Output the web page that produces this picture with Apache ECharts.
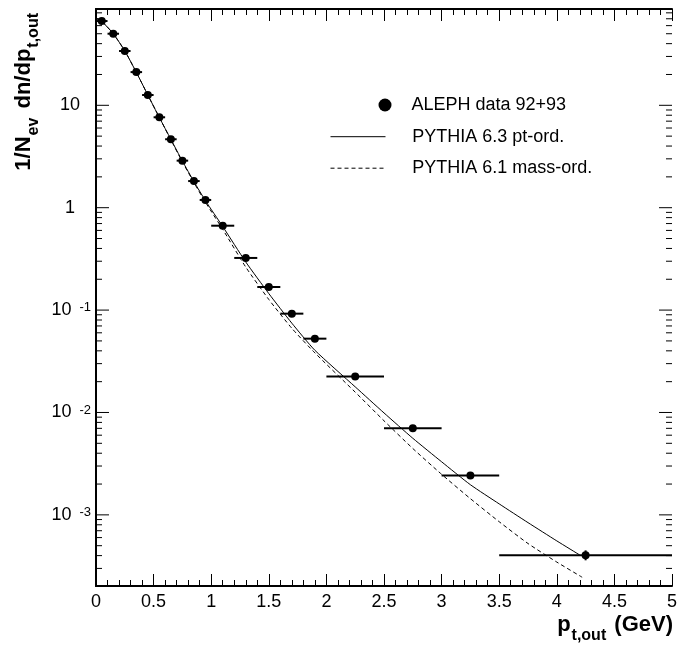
<!DOCTYPE html>
<html><head><meta charset="utf-8">
<script src="https://cdn.jsdelivr.net/npm/echarts@6/dist/echarts.min.js"></script>
<style>html,body{margin:0;padding:0;background:#fff}#c{width:681px;height:651px}</style>
</head><body><div id="c"></div>
<script>
// ---- data ----
const dataX   = [0.05,0.15,0.25,0.35,0.45,0.55,0.65,0.75,0.85,0.95,1.1,1.3,1.5,1.7,1.9,2.25,2.75,3.25,4.25];
const dataY   = [66.5,50,33.9,21.1,12.6,7.64,4.66,2.88,1.82,1.19,0.667,0.323,0.168,0.0923,0.0526,0.0224,0.00701,0.00242,0.000403];
const dataXLo = [0,0.1,0.2,0.3,0.4,0.5,0.6,0.7,0.8,0.9,1.0,1.2,1.4,1.6,1.8,2.0,2.5,3.0,3.5];
const dataXHi = [0.1,0.2,0.3,0.4,0.5,0.6,0.7,0.8,0.9,1.0,1.2,1.4,1.6,1.8,2.0,2.5,3.0,3.5,5.0];
const dataYLo = [null,null,null,null,null,null,null,null,null,null,null,null,null,null,null,null,null,null,0.00036];
const dataYHi = [null,null,null,null,null,null,null,null,null,null,null,null,null,null,null,null,null,null,0.00045];

const ptOrdX = [0,0.05,0.15,0.25,0.35,0.45,0.55,0.65,0.75,0.85,0.95,1.1,1.3,1.5,1.7,1.9,2.25,2.5,2.75,3.0,3.25,3.5,3.75,4.0,4.2];
const ptOrdY = [70.7,66,50,34,21,12.6,7.6,4.65,2.85,1.8,1.17,0.655,0.295,0.145,0.0745,0.0405,0.0178,0.0099,0.0056,0.0033,0.00197,0.00128,0.00084,0.000557,0.000405];
const massOrdX = [0,0.05,0.15,0.25,0.35,0.45,0.55,0.65,0.75,0.85,0.95,1.1,1.3,1.5,1.7,1.9,2.25,2.5,2.75,3.0,3.25,3.5,3.75,4.0,4.22];
const massOrdY = [70.7,66,50,34,21,12.6,7.6,4.6,2.8,1.76,1.13,0.615,0.263,0.127,0.0664,0.0382,0.0158,0.0083,0.00445,0.00249,0.00144,0.000857,0.000525,0.000346,0.000246];

const seriesNames = ['ALEPH data 92+93','PYTHIA 6.3 pt-ord.','PYTHIA 6.1 mass-ord.'];
const yMajorTicks = [0.001,0.01,0.1,1,10];
const yMinorTicks = [3e-4,4e-4,5e-4,6e-4,7e-4,8e-4,9e-4,
  2e-3,3e-3,4e-3,5e-3,6e-3,7e-3,8e-3,9e-3,
  0.02,0.03,0.04,0.05,0.06,0.07,0.08,0.09,
  0.2,0.3,0.4,0.5,0.6,0.7,0.8,0.9,
  2,3,4,5,6,7,8,9,20,30,40,50,60,70,80];
const xMin = 0, xMax = 5, xInterval = 0.5;
const yMin = 2.02e-4, yMax = 87.2;

// ---- chart ----
const FONT = '"Liberation Sans", Arial, Helvetica, sans-serif';
const chart = echarts.init(document.getElementById('c'), null, {renderer:'canvas'});

function yLabel(v){
  const e = Math.round(Math.log10(v));
  if (e === 1) return '{n10|10}';
  if (e === 0) return '{n1|1}';
  return '{n|10}{e|' + e + '}';
}
const nBase = {fontSize:18, lineHeight:18, fontFamily:FONT, color:'#000'};

const frameLine = {show:true, lineStyle:{color:'#000', width:2}};
function xAx(pos, showLabel){
  return {type:'value', position:pos, min:xMin, max:xMax, interval:xInterval,
    axisLine:frameLine,
    axisTick:{show:true, inside:true, length:12, lineStyle:{color:'#000', width:1}},
    minorTick:{show:true, splitNumber:5, length:6, lineStyle:{color:'#000', width:1}},
    splitLine:{show:false}, minorSplitLine:{show:false},
    axisLabel:{show:showLabel, margin:7, fontSize:18, fontFamily:FONT, color:'#000',
      showMinLabel:true, showMaxLabel:true, hideOverlap:false}
  };
}
function yAx(pos, showLabel){
  const ax = {type:'log', logBase:10, position:pos, min:yMin, max:yMax,
    axisLine:frameLine, axisTick:{show:false}, splitLine:{show:false},
    axisLabel:{show:false}
  };
  if (showLabel) {
    ax.axisLabel = {show:true, customValues:yMajorTicks, margin:5, formatter:yLabel,
      rich:{
        n:Object.assign({}, nBase, {padding:[12,0,12,0]}),
        n10:Object.assign({}, nBase, {padding:[12,11,12,0]}),
        n1:Object.assign({}, nBase, {padding:[12,16,12,0]}),
        e:{fontSize:13, lineHeight:13, fontFamily:FONT, color:'#000', verticalAlign:'top', padding:[0,0,0,8]}
      }};
  }
  return ax;
}

const errData = dataX.map((x,i)=>[x, dataY[i], dataXLo[i], dataXHi[i], dataYLo[i], dataYHi[i]]);
const yTickData = yMajorTicks.map(v=>[xMin, v, 1]).concat(yMinorTicks.map(v=>[xMin, v, 0]));

const mTok = {fontSize:22, lineHeight:22, fontWeight:'bold', fontFamily:FONT, color:'#000'};

chart.setOption({
  animation:false,
  backgroundColor:'#fff',
  grid:{left:96, right:9, top:9, bottom:65, containLabel:false},
  xAxis:[xAx('bottom', true), xAx('top', false)],
  yAxis:[yAx('left', true), yAx('right', false)],
  legend:[
    {data:[{name:seriesNames[0], icon:'circle'}], left:378.5, top:95, orient:'vertical', padding:0,
     itemWidth:13, itemHeight:13, selectedMode:false, itemStyle:{color:'#000', opacity:1},
     textStyle:{fontSize:18, lineHeight:20, fontFamily:FONT, color:'#000', padding:[0,0,0,15]}},
    {data:[seriesNames[1], seriesNames[2]], left:330, top:126.7, orient:'vertical', padding:0,
     itemWidth:55, itemHeight:14, itemGap:11.5, selectedMode:false,
     itemStyle:{color:'rgba(0,0,0,0)', borderWidth:0, opacity:0},
     lineStyle:{width:1, color:'#000'},
     textStyle:{fontSize:18, lineHeight:20, fontFamily:FONT, color:'#000', padding:[0,0,0,21.7]}}
  ],
  graphic:[
    {type:'text', x:673, y:625, silent:true,
     style:{text:'{m|p}{s|t,out}{m| (GeV)}', align:'right', verticalAlign:'middle',
       rich:{m:mTok, s:{fontSize:16, lineHeight:16, fontWeight:'bold', fontFamily:FONT, color:'#000', padding:[22,2,0,1]}}}},
    {type:'text', x:24, y:10, rotation:Math.PI/2, silent:true,
     style:{text:'{m|1/N}{s|ev}{m| dn/dp}{s|t,out}', align:'right', verticalAlign:'middle',
       rich:{m:mTok, s:{fontSize:16, lineHeight:16, fontWeight:'bold', fontFamily:FONT, color:'#000', padding:[20,3,0,1]}}}}
  ],
  series:[
    {type:'custom', xAxisIndex:0, yAxisIndex:0, data:yTickData, encode:{x:0, y:1}, z:1, silent:true,
     renderItem:function(params, api){
       const v = api.value(1);
       const len = api.value(2) ? 13 : 6;
       const a = api.coord([xMin, v]), b = api.coord([xMax, v]);
       return {type:'group', children:[
         {type:'line', shape:{x1:a[0], y1:a[1], x2:a[0]+len, y2:a[1]}, style:{stroke:'#000', lineWidth:1}},
         {type:'line', shape:{x1:b[0], y1:b[1], x2:b[0]-len, y2:b[1]}, style:{stroke:'#000', lineWidth:1}}
       ]};
     }},
    {name:seriesNames[1], type:'line', xAxisIndex:0, yAxisIndex:0, symbol:'none', showSymbol:false,
     smooth:0.2, data:ptOrdX.map((x,i)=>[x, ptOrdY[i]]),
     lineStyle:{color:'#000', width:1}, itemStyle:{color:'#000'}, z:2},
    {name:seriesNames[2], type:'line', xAxisIndex:0, yAxisIndex:0, symbol:'none', showSymbol:false,
     smooth:0.2, data:massOrdX.map((x,i)=>[x, massOrdY[i]]),
     lineStyle:{color:'#000', width:1, type:[4,3]}, itemStyle:{color:'#000'}, z:2},
    {type:'custom', xAxisIndex:0, yAxisIndex:0, data:errData, encode:{x:0, y:1}, z:3, silent:true,
     renderItem:function(params, api){
       const y = api.value(1);
       const a = api.coord([api.value(2), y]), b = api.coord([api.value(3), y]);
       const ch = [{type:'line', shape:{x1:a[0], y1:a[1], x2:b[0], y2:b[1]}, style:{stroke:'#000', lineWidth:2}}];
       const yl = api.value(4), yh = api.value(5);
       if (isFinite(yl) && isFinite(yh) && yl > 0) {
         const c = api.coord([api.value(0), yl]), d = api.coord([api.value(0), yh]);
         ch.push({type:'line', shape:{x1:c[0], y1:c[1], x2:d[0], y2:d[1]}, style:{stroke:'#000', lineWidth:2}});
       }
       return {type:'group', children:ch};
     }},
    {name:seriesNames[0], type:'scatter', xAxisIndex:0, yAxisIndex:0, symbol:'circle', symbolSize:8,
     data:dataX.map((x,i)=>[x, dataY[i]]), itemStyle:{color:'#000', opacity:1}, z:4}
  ]
});
</script></body></html>
